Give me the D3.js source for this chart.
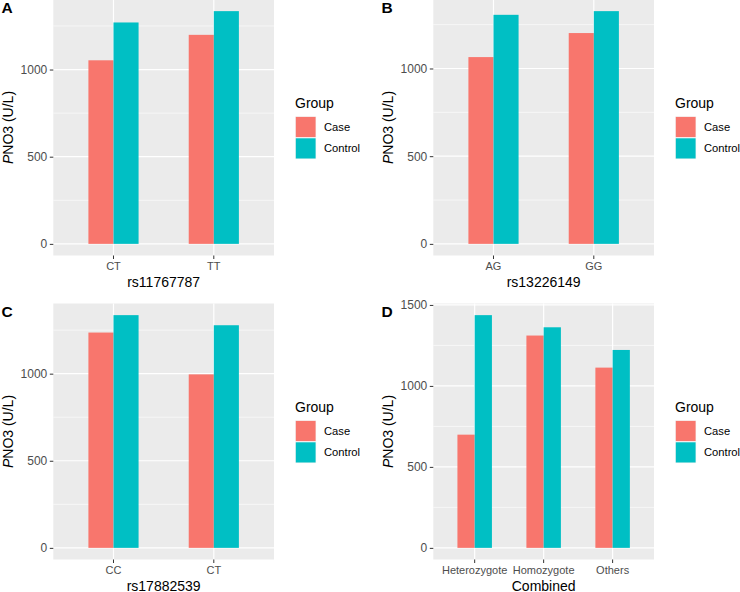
<!DOCTYPE html>
<html>
<head>
<meta charset="utf-8">
<script src="https://cdn.jsdelivr.net/npm/d3@7"></script>
<style>
  html, body { margin: 0; padding: 0; background: #fff; }
  svg { display: block; font-family: "Liberation Sans", Arial, sans-serif; }
</style>
</head>
<body>
<svg id="chart" width="740" height="592"></svg>
<script>
// ---- Data ----
const groups = ["Case", "Control"];
const groupColors = ["#F8766D", "#00BFC4"];

const catsA = ["CT", "TT"];
const caseA = [1053, 1199];
const controlA = [1270, 1335];

const catsB = ["AG", "GG"];
const caseB = [1065, 1202];
const controlB = [1306, 1327];

const catsC = ["CC", "CT"];
const caseC = [1236, 996];
const controlC = [1336, 1278];

const catsD = ["Heterozygote", "Homozygote", "Others"];
const caseD = [699, 1311, 1113];
const controlD = [1437, 1362, 1222];

const panelLetters = ["A", "B", "C", "D"];
const xTitles = ["rs11767787", "rs13226149", "rs17882539", "Combined"];
const yTicksABC = [0, 500, 1000];
const yTicksD = [0, 500, 1000, 1500];
const yMinor = [250, 750, 1250];
const legendTitle = "Group";

// ---- Build panels ----
const panels = [
  { cats: catsA, vals: [caseA, controlA], ticks: yTicksABC, col: 0, row: 0 },
  { cats: catsB, vals: [caseB, controlB], ticks: yTicksABC, col: 1, row: 0 },
  { cats: catsC, vals: [caseC, controlC], ticks: yTicksABC, col: 0, row: 1 },
  { cats: catsD, vals: [caseD, controlD], ticks: yTicksD, col: 1, row: 1 }
];

const svg = d3.select("#chart");
const colOff = [0, 380];
const rowOff = [0, 304];
const base = { left: 53.3, right: 274, top: -0.5, bottom: 255.5 };

panels.forEach((p, i) => {
  const ox = colOff[p.col], oy = rowOff[p.row];
  const g = svg.append("g").attr("transform", `translate(${ox},${oy})`);
  const L = base.left, R = base.right, T = base.top, B = base.bottom;

  const maxV = d3.max(p.vals.flat());
  const y = d3.scaleLinear().domain([-0.05 * maxV, 1.05 * maxV]).range([B, T]);
  const x = d3.scaleBand().domain(p.cats).range([L, R]).paddingInner(0).paddingOuter(0.1);
  const bw = x.bandwidth();
  const xg = d3.scaleBand().domain(groups).range([-0.25 * bw, 0.25 * bw]).padding(0);
  const cx = c => x(c) + bw / 2;

  // panel background
  g.append("rect").attr("x", L).attr("y", T).attr("width", R - L).attr("height", B - T)
    .attr("fill", "#EBEBEB");

  // minor grid
  g.selectAll(".ymin").data(yMinor.filter(v => y(v) > T && y(v) < B)).enter().append("line")
    .attr("x1", L).attr("x2", R).attr("y1", d => y(d)).attr("y2", d => y(d))
    .attr("stroke", "#fff").attr("stroke-width", 0.6);
  // major grid
  g.selectAll(".ymaj").data(p.ticks).enter().append("line")
    .attr("x1", L).attr("x2", R).attr("y1", d => y(d)).attr("y2", d => y(d))
    .attr("stroke", "#fff").attr("stroke-width", 1.2);
  g.selectAll(".xmaj").data(p.cats).enter().append("line")
    .attr("x1", d => cx(d)).attr("x2", d => cx(d)).attr("y1", T).attr("y2", B)
    .attr("stroke", "#fff").attr("stroke-width", 1.2);

  // bars
  groups.forEach((grp, gi) => {
    g.selectAll(".bar" + gi).data(p.cats).enter().append("rect")
      .attr("x", d => cx(d) + xg(grp))
      .attr("width", xg.bandwidth())
      .attr("y", (d, k) => y(p.vals[gi][k]))
      .attr("height", (d, k) => y(0) - y(p.vals[gi][k]))
      .attr("fill", groupColors[gi]);
  });

  // y axis
  const ya = g.append("g").attr("transform", `translate(${L},0)`)
    .call(d3.axisLeft(y).tickValues(p.ticks).tickSize(3.5).tickPadding(2.5).tickFormat(d3.format("d")));
  ya.select(".domain").remove();
  ya.selectAll(".tick line").attr("stroke", "#333333").attr("stroke-width", 1);
  ya.selectAll(".tick text").attr("fill", "#4D4D4D").attr("font-size", 12)
    .attr("font-family", "Liberation Sans, Arial, sans-serif");

  // x axis
  const xa = g.append("g").attr("transform", `translate(0,${B})`)
    .call(d3.axisBottom(x).tickSize(3.5).tickPadding(3));
  xa.select(".domain").remove();
  xa.selectAll(".tick line").attr("stroke", "#333333").attr("stroke-width", 1);
  xa.selectAll(".tick text").attr("fill", "#4D4D4D").attr("font-size", 11)
    .attr("font-family", "Liberation Sans, Arial, sans-serif");

  // x title
  g.append("text").attr("x", (L + R) / 2).attr("y", 286.5).attr("text-anchor", "middle")
    .attr("font-size", 14).attr("fill", "#000").text(xTitles[i]);

  // y title
  const yt = g.append("text").attr("transform", `translate(12.5,${(T + B) / 2}) rotate(-90)`)
    .attr("text-anchor", "middle").attr("font-size", 14).attr("fill", "#000");
  yt.append("tspan").attr("font-style", "italic").text("P");
  yt.append("tspan").text("NO3 (U/L)");

  // panel letter
  g.append("text").attr("x", 1.5).attr("y", 12.7).attr("font-size", 15.5)
    .attr("font-weight", "bold").attr("fill", "#000").text(panelLetters[i]);

  // legend
  const lg = g.append("g");
  lg.append("text").attr("x", 295).attr("y", 108).attr("font-size", 14).attr("fill", "#000")
    .text(legendTitle);
  const keyTop = 116.3, keyH = 21.4, keyX = 295.2, keyW = 21;
  groups.forEach((grp, gi) => {
    const ky = keyTop + gi * keyH;
    lg.append("rect").attr("x", keyX).attr("y", ky).attr("width", keyW).attr("height", keyH)
      .attr("fill", "#F2F2F2");
    lg.append("rect").attr("x", keyX + 0.6).attr("y", ky + 0.6).attr("width", keyW - 1.2)
      .attr("height", keyH - 1.2).attr("fill", groupColors[gi]);
    lg.append("text").attr("x", 324).attr("y", ky + keyH / 2).attr("dy", "0.35em")
      .attr("font-size", 11.2).attr("fill", "#000").text(grp);
  });
});
</script>
</body>
</html>
